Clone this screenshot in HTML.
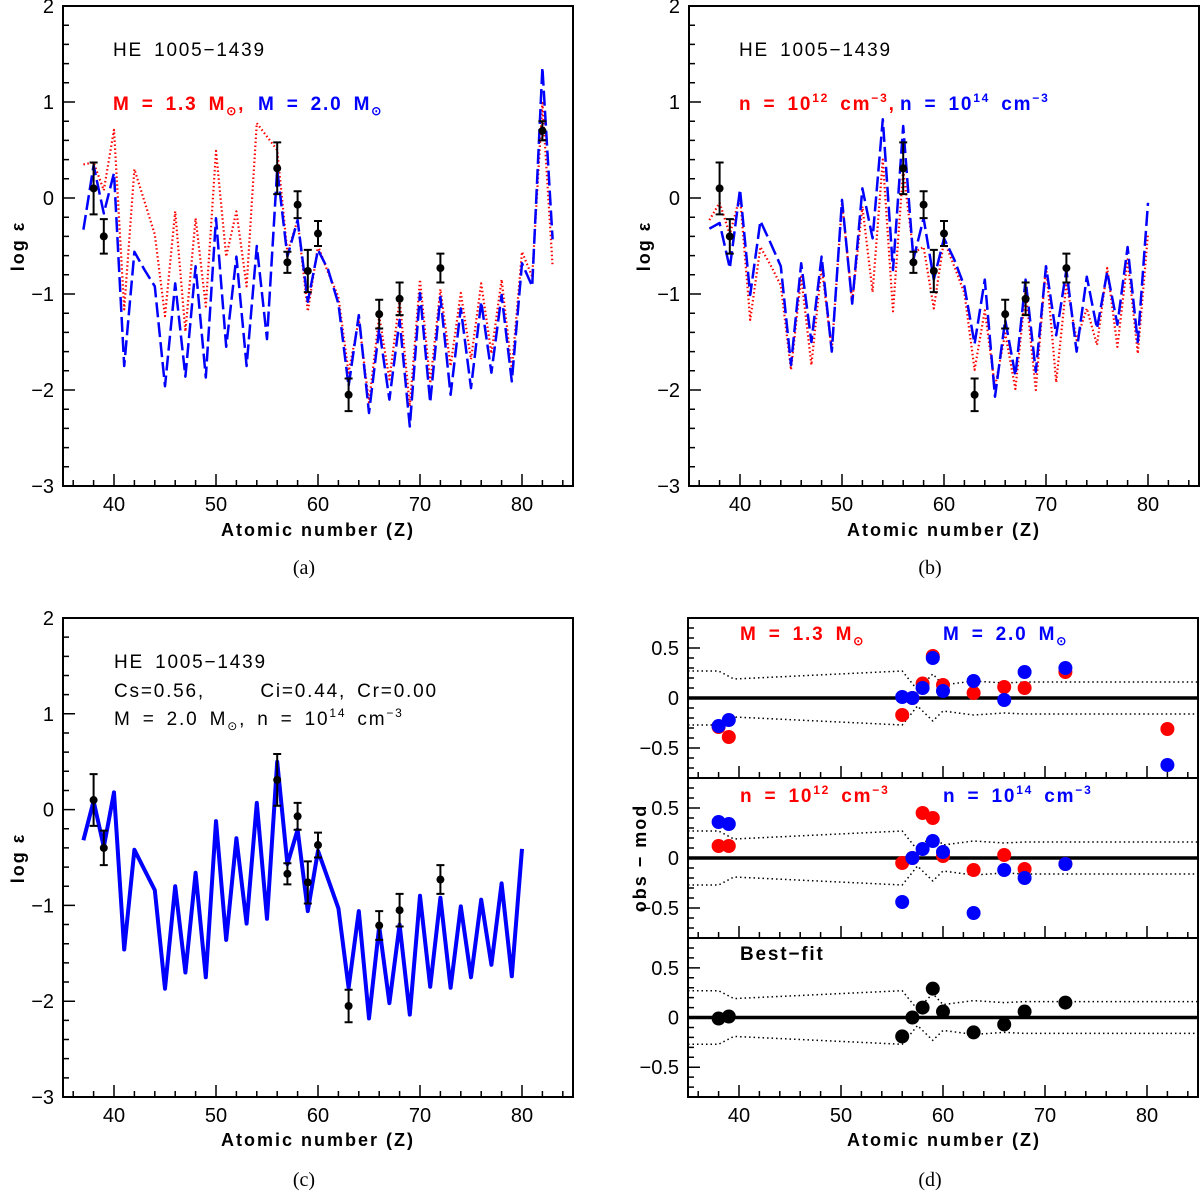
<!DOCTYPE html>
<html><head><meta charset="utf-8">
<style>
html,body{margin:0;padding:0;background:#fff;}
svg{display:block;}
text{font-family:"Liberation Sans",sans-serif;}
.tick{font-size:20px;fill:#000;}
.lab{font-size:18px;font-weight:bold;letter-spacing:2px;}
.ann{font-size:19px;letter-spacing:1.8px;word-spacing:4px;}
.leg{font-weight:bold;}
.cap{font-family:"Liberation Serif",serif;font-size:20px;}
</style></head>
<body>
<svg id="chart" width="1200" height="1196" viewBox="0 0 1200 1196" xmlns="http://www.w3.org/2000/svg"></svg>
<script>
// ---------- data ----------
const zA = [37,38,39,40,41,42,43,44,45,46,47,48,49,50,51,52,53,54,55,56,57,58,59,60,61,62,63,64,65,66,67,68,69,70,71,72,73,74,75,76,77,78,79,80,81,82,83];
const aBlue = [-0.33,0.34,-0.16,0.26,-1.75,-0.56,-0.75,-0.92,-1.96,-0.89,-1.86,-0.71,-1.87,-0.21,-1.55,-0.61,-1.75,-0.50,-1.47,0.30,-0.61,-0.23,-1.08,-0.54,-0.75,-1.10,-1.96,-1.22,-2.24,-1.36,-2.10,-1.27,-2.38,-0.99,-2.13,-1.03,-2.05,-1.15,-1.98,-1.08,-1.82,-1.01,-1.91,-0.68,-0.92,1.36,-0.43];
const aRed = [0.35,0.37,0.08,0.71,-1.16,0.30,-0.04,-0.38,-1.23,-0.14,-1.39,-0.21,-1.13,0.49,-0.61,-0.14,-0.92,0.78,0.64,0.50,-0.57,-0.23,-1.18,-0.50,-0.78,-1.03,-1.82,-1.27,-2.13,-1.23,-1.89,-1.06,-2.17,-0.85,-1.93,-0.95,-1.75,-0.99,-1.68,-0.89,-1.62,-0.85,-1.79,-0.56,-0.82,0.99,-0.71];
const zB = [37,38,39,40,41,42,43,44,45,46,47,48,49,50,51,52,53,54,55,56,57,58,59,60,61,62,63,64,65,66,67,68,69,70,71,72,73,74,75,76,77,78,79,80];
const bBlue = [-0.32,-0.26,-0.73,0.09,-1.01,-0.24,-0.47,-0.71,-1.74,-0.68,-1.50,-0.61,-1.60,-0.02,-1.10,0.10,-0.42,0.82,-0.75,0.75,-0.64,-0.21,-0.85,-0.42,-0.64,-0.92,-1.52,-0.85,-2.07,-1.27,-1.85,-0.85,-1.81,-0.71,-1.43,-0.75,-1.60,-0.82,-1.36,-0.77,-1.32,-0.51,-1.50,-0.05];
const bRed = [-0.23,-0.05,-0.38,0.02,-1.27,-0.51,-0.70,-0.91,-1.79,-0.82,-1.74,-0.71,-1.59,-0.05,-1.08,-0.09,-0.98,0.40,-1.18,0.30,-0.57,-0.51,-1.15,-0.44,-0.71,-0.99,-1.79,-1.17,-1.97,-1.41,-1.99,-0.96,-2.00,-0.70,-1.92,-0.89,-1.48,-1.15,-1.53,-0.73,-1.55,-0.64,-1.62,-0.37];
const cBest = [-0.32,0.09,-0.39,0.18,-1.46,-0.42,-0.63,-0.84,-1.87,-0.80,-1.70,-0.66,-1.75,-0.12,-1.36,-0.30,-1.19,0.07,-1.14,0.50,-0.57,-0.21,-1.06,-0.43,-0.73,-1.03,-1.86,-1.06,-2.18,-1.22,-2.02,-1.20,-2.14,-0.90,-1.85,-0.92,-1.86,-1.01,-1.75,-0.94,-1.62,-0.77,-1.74,-0.41];
const obsZ = [38,39,56,57,58,59,60,63,66,68,72,82];
const obsV = [0.10,-0.40,0.31,-0.67,-0.07,-0.76,-0.37,-2.05,-1.21,-1.05,-0.73,0.70];
const obsE = [0.27,0.18,0.27,0.11,0.14,0.22,0.13,0.17,0.15,0.17,0.15,0.10];
const dZ = [38,39,56,57,58,59,60,63,66,68,72,82];
const dM13 = [-0.29,-0.39,-0.17,0.00,0.145,0.42,0.13,0.05,0.11,0.10,0.26,-0.31];
const dM20 = [-0.28,-0.22,0.01,0.00,0.10,0.40,0.07,0.17,-0.02,0.26,0.30,-0.67];
const dZn = [38,39,56,57,58,59,60,63,66,68,72];
const dN12 = [0.12,0.12,-0.05,0.00,0.45,0.40,0.02,-0.12,0.03,-0.11,-0.06];
const dN14 = [0.36,0.34,-0.44,0.00,0.09,0.17,0.06,-0.55,-0.12,-0.20,-0.06];
const dBest = [-0.01,0.01,-0.19,0.00,0.10,0.29,0.06,-0.15,-0.07,0.06,0.15];
const envZ = [35,38,39.5,56,57.5,59,60,63,66,68,85];
const envUp = [0.27,0.27,0.19,0.27,0.08,0.24,0.13,0.17,0.15,0.16,0.16];
const envLo = [-0.27,-0.27,-0.19,-0.27,-0.08,-0.23,-0.13,-0.17,-0.15,-0.16,-0.16];
const yTicksMain = [2,1,0,-1,-2,-3];
const yTicksD = [0.5,0,-0.5];
const xTicks = [40,50,60,70,80];

// ---------- helpers ----------
const NS = "http://www.w3.org/2000/svg";
const svg = document.getElementById('chart');
function mk(tag, attrs, parent){
  const e = document.createElementNS(NS, tag);
  for (const k in attrs) e.setAttribute(k, attrs[k]);
  (parent || svg).appendChild(e);
  return e;
}
function sx(p, z){ return p.x0 + (z - p.zmin) / (p.zmax - p.zmin) * p.w; }
function sy(p, v){ return p.y0 + (p.vmax - v) / (p.vmax - p.vmin) * p.h; }
function fmt(v){ return (v < 0 ? '\u2212' : '') + Math.abs(v); }

function frame(p, name, yMaj, yMin, yLabels, showX){
  const g = mk('g', {});
  
  
  const r = mk('rect', {x:p.x0, y:p.y0, width:p.w, height:p.h, fill:'none', stroke:'#000', 'stroke-width':2}, g);
  
  
  let d = '';
  for (let z = 36; z <= 84; z += 2){
    const L = (z % 10 === 0) ? 12 : 6;
    const x = sx(p, z);
    d += `M${x},${p.y0 + p.h}v${-L}`;
  }
  const n = Math.round((p.vmax - p.vmin) / yMin);
  for (let i = 0; i <= n; i++){
    const v = p.vmin + i * yMin;
    const isMaj = Math.abs(v / yMaj - Math.round(v / yMaj)) < 1e-6;
    const y = sy(p, v);
    d += `M${p.x0},${y}h${isMaj ? 12 : 6}`;
  }
  const t = mk('path', {d:d, stroke:'#000', 'stroke-width':1.5, fill:'none'}, g);
  
  
  yLabels.forEach(v => {
    const tx = mk('text', {x:p.x0 - 9, y:sy(p, v) + 7, 'text-anchor':'end', class:'tick'}, g);
    
    
    tx.textContent = fmt(v);
  });
  if (showX){
    xTicks.forEach(z => {
      const tx = mk('text', {x:sx(p, z), y:p.y0 + p.h + 25, 'text-anchor':'middle', class:'tick'}, g);
      
      
      tx.textContent = z;
    });
  }
  return g;
}
function line(p, zs, vs, style, name){
  const pts = zs.map((z, i) => sx(p, z).toFixed(1) + ',' + sy(p, vs[i]).toFixed(1)).join(' ');
  const e = mk('polyline', Object.assign({points:pts, fill:'none', 'stroke-linejoin':'round'}, style));
  
  
  return e;
}
function obs(p, n){
  const g = mk('g', {});
  
  
  for (let i = 0; i < n; i++){
    const x = sx(p, obsZ[i]), y = sy(p, obsV[i]);
    const y1 = sy(p, obsV[i] + obsE[i]), y2 = sy(p, obsV[i] - obsE[i]);
    const b = mk('path', {d:`M${x},${y1}V${y2}M${x-4},${y1}h8M${x-4},${y2}h8`, stroke:'#000', 'stroke-width':2, fill:'none'}, g);
    
    
    const c = mk('circle', {cx:x, cy:y, r:4, fill:'#000'}, g);
    
    
  }
}
function txt(x, y, html, cls, fill, name, anchor){
  const e = mk('text', {x:x, y:y, class:cls, fill:fill || '#000', 'text-anchor':anchor || 'start'});
  
  
  e.innerHTML = html;
  return e;
}
function ylab(x, y, s, name){
  const e = mk('text', {x:0, y:0, class:'lab', transform:`translate(${x},${y}) rotate(-90)`, 'text-anchor':'middle'});
  
  
  e.textContent = s;
}
const SUN = after => `<tspan font-size="12" dy="5">\u2299</tspan><tspan dy="-5">${after}</tspan>`;
const SUP = (s, after) => `<tspan font-size="12" dy="-8">${s}</tspan><tspan dy="8">${after}</tspan>`;
const NSTR = (e, after) => 'n = 10' + `<tspan font-size="12" dy="-8">${e}</tspan><tspan dy="8"> cm</tspan><tspan font-size="12" dy="-8">\u22123</tspan><tspan dy="8">${after}</tspan>`;
const dashBlue = {stroke:'#0000ff', 'stroke-width':2.5, 'stroke-dasharray':'15 5'};
const dotRed = {stroke:'#ff0000', 'stroke-width':2.2, 'stroke-dasharray':'1.5 2.5'};

// ---------- panel a ----------
const A = {x0:63, y0:6, w:510, h:480, zmin:35, zmax:85, vmin:-3, vmax:2};
frame(A, 'panel-a-axes', 1, 0.2, yTicksMain, true);
line(A, zA, aRed, dotRed, 'series-m13');
line(A, zA, aBlue, dashBlue, 'series-m20');
obs(A, 12);
txt(113, 56, 'HE 1005\u22121439', 'ann', '#000', 'star-label');
txt(113, 110, 'M = 1.3 M' + SUN(','), 'ann leg', '#ff0000', 'legend-m13');
txt(258, 110, 'M = 2.0 M' + SUN(''), 'ann leg', '#0000ff', 'legend-m20');
txt(318, 536, 'Atomic number (Z)', 'lab', '#000', 'x-axis-title', 'middle');
ylab(24, 246, 'log \u03b5', 'y-axis-title');
txt(304, 574, '(a)', 'cap', '#000', 'caption-a', 'middle');

// ---------- panel b ----------
const B = {x0:689, y0:6, w:510, h:480, zmin:35, zmax:85, vmin:-3, vmax:2};
frame(B, 'panel-b-axes', 1, 0.2, yTicksMain, true);
line(B, zB, bRed, dotRed, 'series-n12');
line(B, zB, bBlue, dashBlue, 'series-n14');
obs(B, 11);
txt(739, 56, 'HE 1005\u22121439', 'ann', '#000', 'star-label');
txt(739, 110, NSTR('12', ','), 'ann leg', '#ff0000', 'legend-n12');
txt(900, 110, NSTR('14', ''), 'ann leg', '#0000ff', 'legend-n14');
txt(944, 536, 'Atomic number (Z)', 'lab', '#000', 'x-axis-title', 'middle');
ylab(650, 246, 'log \u03b5', 'y-axis-title');
txt(930, 574, '(b)', 'cap', '#000', 'caption-b', 'middle');

// ---------- panel c ----------
const C = {x0:63, y0:618, w:510, h:479, zmin:35, zmax:85, vmin:-3, vmax:2};
frame(C, 'panel-c-axes', 1, 0.2, yTicksMain, true);
line(C, zB, cBest, {stroke:'#0000ff', 'stroke-width':4}, 'series-best-model');
obs(C, 11);
txt(114, 668, 'HE 1005\u22121439', 'ann', '#000', 'star-label');
txt(114, 697, 'Cs=0.56,&#160;&#160;&#160;&#160;&#160;Ci=0.44, Cr=0.00', 'ann', '#000', 'fit-coefficients');
txt(114, 725, 'M = 2.0 M' + SUN(', ' + '') + '', 'ann', '#000', 'fit-parameters').innerHTML += NSTR('14', '').replace('n = 10', '<tspan>n = 10</tspan>');
txt(318, 1146, 'Atomic number (Z)', 'lab', '#000', 'x-axis-title', 'middle');
ylab(24, 858, 'log \u03b5', 'y-axis-title');
txt(304, 1186, '(c)', 'cap', '#000', 'caption-c', 'middle');

// ---------- panel d ----------
const D1 = {x0:688, y0:618, w:510, h:160, zmin:35, zmax:85, vmin:-0.8, vmax:0.8};
const D2 = {x0:688, y0:778, w:510, h:160, zmin:35, zmax:85, vmin:-0.8, vmax:0.8};
const D3 = {x0:688, y0:938, w:510, h:159, zmin:35, zmax:85, vmin:-0.8, vmax:0.8};
function subpanel(p, name, showX){
  frame(p, name, 0.5, 0.1, yTicksD, showX);
  const z = mk('line', {x1:p.x0, x2:p.x0 + p.w, y1:sy(p, 0), y2:sy(p, 0), stroke:'#000', 'stroke-width':3.5});
  
  
  line(p, envZ, envUp, {stroke:'#000', 'stroke-width':1.5, 'stroke-dasharray':'1.5 3'}, 'error-envelope-upper');
  line(p, envZ, envLo, {stroke:'#000', 'stroke-width':1.5, 'stroke-dasharray':'1.5 3'}, 'error-envelope-lower');
}
function dots(p, zs, vs, color, name){
  const g = mk('g', {});
  
  
  zs.forEach((z, i) => {
    const c = mk('circle', {cx:sx(p, z), cy:sy(p, vs[i]), r:7, fill:color}, g);
    
    
  });
}
subpanel(D1, 'panel-d-mass-residuals', false);
dots(D1, dZ, dM13, '#ff0000', 'residuals-m13');
dots(D1, dZ, dM20, '#0000ff', 'residuals-m20');
txt(740, 640, 'M = 1.3 M' + SUN(''), 'ann leg', '#ff0000', 'legend-m13');
txt(943, 640, 'M = 2.0 M' + SUN(''), 'ann leg', '#0000ff', 'legend-m20');
subpanel(D2, 'panel-d-density-residuals', false);
dots(D2, dZn, dN12, '#ff0000', 'residuals-n12');
dots(D2, dZn, dN14, '#0000ff', 'residuals-n14');
txt(740, 802, NSTR('12', ''), 'ann leg', '#ff0000', 'legend-n12');
txt(943, 802, NSTR('14', ''), 'ann leg', '#0000ff', 'legend-n14');
subpanel(D3, 'panel-d-bestfit-residuals', true);
dots(D3, dZn, dBest, '#000', 'residuals-best-fit');
txt(740, 960, 'Best\u2212fit', 'ann leg', '#000', 'best-fit-label');
txt(944, 1146, 'Atomic number (Z)', 'lab', '#000', 'x-axis-title', 'middle');
ylab(646, 858, 'obs \u2212 mod', 'y-axis-title');
txt(930, 1186, '(d)', 'cap', '#000', 'caption-d', 'middle');
</script>
</body></html>
